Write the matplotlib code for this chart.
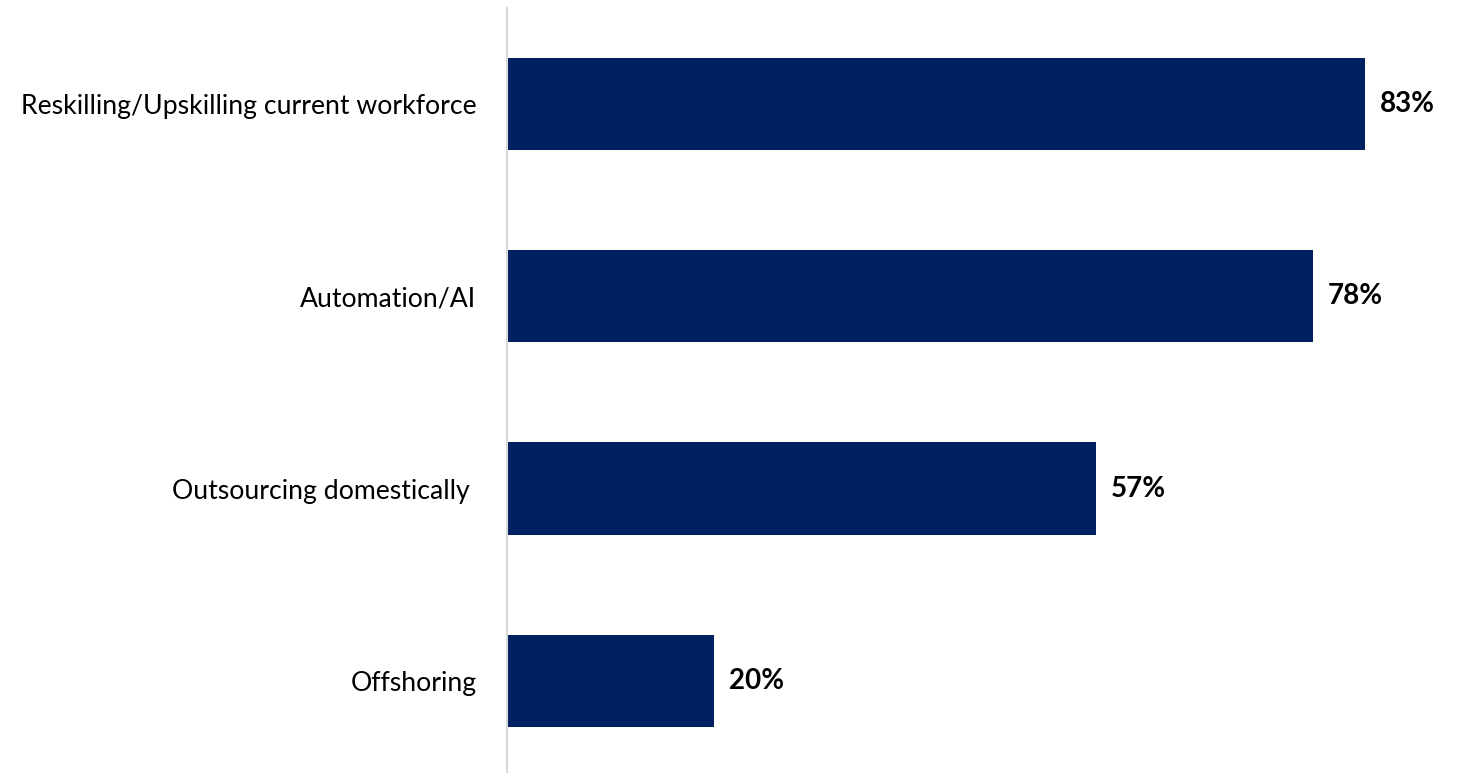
import matplotlib.pyplot as plt

categories = ['Reskilling/Upskilling current workforce', 'Automation/AI',
              'Outsourcing domestically ', 'Offshoring']
values = [83, 78, 57, 20]

plt.rcParams['font.family'] = ['Lato', 'DejaVu Sans']

fig = plt.figure(figsize=(14.58, 7.73), dpi=100)
# axes placed so the bars start at the thin left spine
ax = fig.add_axes([507 / 1458, 0, 930 / 1458, 765 / 773])

y = list(range(len(categories)))
ax.barh(y, values, height=0.48, color='#002060')

for yi, v in zip(y, values):
    ax.annotate(f'{v}%', (v, yi), xytext=(15, 0), textcoords='offset pixels',
                va='center', ha='left', fontsize=20, fontweight='bold', color='black')

ax.set_xlim(0, 90)
ax.set_ylim(3.48, -0.5)
ax.set_yticks(y)
ax.set_yticklabels(categories, fontsize=19.2, color='black')
ax.tick_params(axis='y', length=0, pad=22)
ax.set_xticks([])

for side in ['top', 'right', 'bottom']:
    ax.spines[side].set_visible(False)
ax.spines['left'].set_color('#d9d9d9')
ax.spines['left'].set_linewidth(1.5)

fig.savefig('out.png', dpi=100)
